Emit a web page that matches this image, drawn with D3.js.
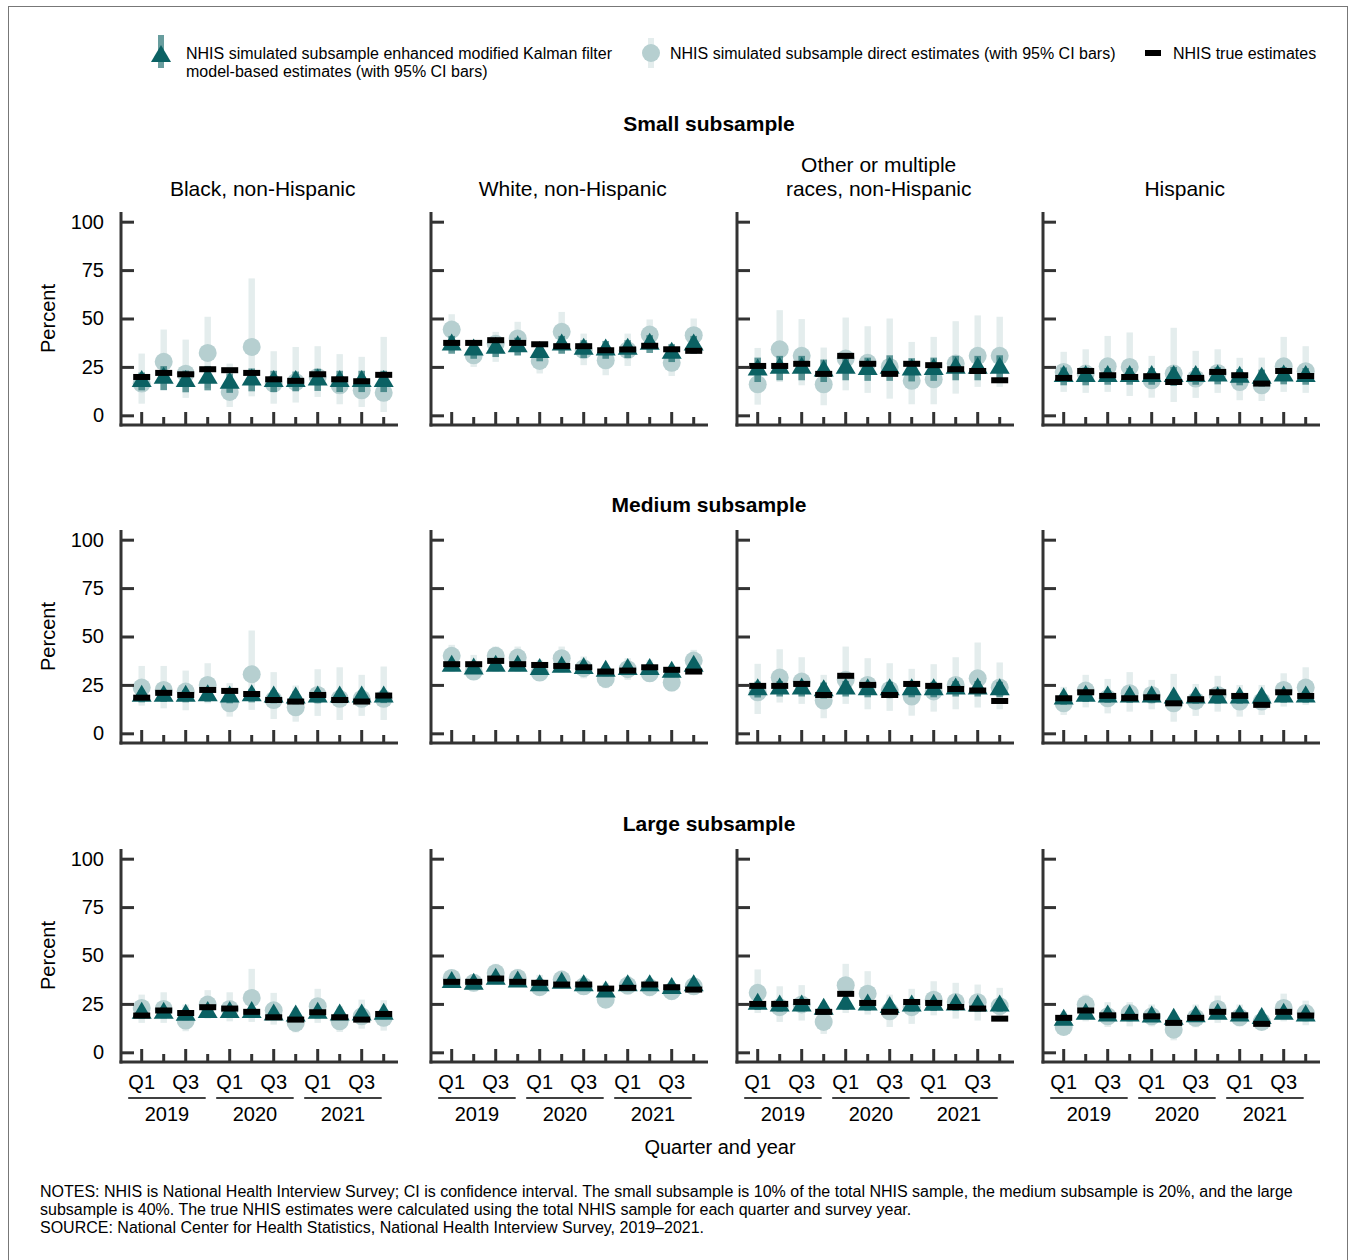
<!DOCTYPE html>
<html><head><meta charset="utf-8">
<script src="https://cdn.jsdelivr.net/npm/d3@7"></script>
<style>body{margin:0;background:#fff;} svg{display:block;font-family:"Liberation Sans",Arial,Helvetica,sans-serif;}</style>
</head><body><svg id="c" width="1351" height="1260"></svg>
<script>
// ---------- categories / labels ----------
const quarters = ["Q1","Q2","Q3","Q4","Q1","Q2","Q3","Q4","Q1","Q2","Q3","Q4"];
const years = ["2019","2020","2021"];
const groups = [["Black, non-Hispanic"],["White, non-Hispanic"],["Other or multiple","races, non-Hispanic"],["Hispanic"]];
const sizes = ["Small subsample","Medium subsample","Large subsample"];
const yTicks = [0,25,50,75,100];
const legendLabels = [["NHIS simulated subsample enhanced modified Kalman filter","model-based estimates (with 95% CI bars)"],["NHIS simulated subsample direct estimates (with 95% CI bars)"],["NHIS true estimates"]];
const notes = ["NOTES: NHIS is National Health Interview Survey; CI is confidence interval. The small subsample is 10% of the total NHIS sample, the medium subsample is 20%, and the large",
 "subsample is 40%. The true NHIS estimates were calculated using the total NHIS sample for each quarter and survey year.",
 "SOURCE: National Center for Health Statistics, National Health Interview Survey, 2019\u20132021."];

// ---------- Small subsample ----------
const smallBlack_true = [19.8,21.9,21.2,23.8,23.3,21.9,18.6,17.8,21.2,18.6,17.6,20.9];
const smallBlack_model = [17.5,19.2,17.5,19.2,16.6,18.3,17.5,17.5,18.3,17.5,17.5,17.5];
const smallBlack_modelLo = [12.9,13.0,11.9,12.9,11.6,12.4,12.0,12.4,12.6,12.0,12.0,12.0];
const smallBlack_modelHi = [22.1,25.4,23.1,25.5,21.6,24.2,23.0,22.6,24.0,23.0,23.0,23.0];
const smallBlack_direct = [16.4,27.6,21.5,32.2,12.1,35.3,16.4,17.2,19.8,15.5,12.9,11.6];
const smallBlack_directLo = [6.0,13.0,9.0,14.0,4.3,9.8,6.0,6.6,9.5,5.7,4.3,1.7];
const smallBlack_directHi = [31.9,44.3,39.1,50.9,26.7,70.7,33.1,35.3,35.7,31.6,30.2,40.5];

const smallWhite_true = [37.4,37.4,38.8,37.4,36.7,35.7,35.7,33.6,34.0,35.9,34.1,33.3];
const smallWhite_model = [36.4,33.8,34.7,35.5,32.5,36.4,34.2,33.8,34.2,36.8,32.1,36.4];
const smallWhite_modelLo = [31.8,29.2,30.1,30.9,27.9,31.8,29.6,29.2,29.6,32.2,27.5,31.8];
const smallWhite_modelHi = [41.0,38.4,39.3,40.1,37.1,41.0,38.8,38.4,38.8,41.4,36.7,41.0];
const smallWhite_direct = [44.3,31.0,37.0,39.7,28.1,43.1,33.6,28.4,33.6,41.7,27.1,41.4];
const smallWhite_directLo = [32.8,25.0,27.6,31.0,21.6,31.9,25.9,20.7,25.5,34.5,20.3,33.6];
const smallWhite_directHi = [52.2,38.8,43.1,48.3,37.0,53.4,42.2,37.0,42.2,49.5,37.0,50.0];

const smallOther_true = [25.5,25.5,26.6,21.4,30.7,26.6,21.4,26.6,25.9,23.8,22.9,18.1];
const smallOther_model = [23.5,24.4,24.4,23.0,24.4,23.8,24.4,23.5,23.8,24.4,24.4,24.4];
const smallOther_modelLo = [17.2,18.1,18.1,17.2,18.1,17.8,17.8,17.5,17.8,18.1,18.1,17.8];
const smallOther_modelHi = [29.8,30.7,30.7,28.8,30.7,29.8,31.0,29.5,29.8,30.7,30.7,31.0];
const smallOther_direct = [16.0,34.1,30.7,16.0,29.3,27.1,25.0,17.8,18.6,26.7,30.7,30.7];
const smallOther_directLo = [5.5,17.2,15.5,5.2,12.9,11.6,8.6,5.7,5.7,11.2,14.7,14.7];
const smallOther_directHi = [34.8,54.3,49.7,35.0,50.5,46.0,50.0,37.9,40.5,48.6,51.6,50.9];

const smallHisp_true = [19.3,22.9,20.7,19.8,20.2,17.2,19.3,22.4,20.7,16.4,22.9,20.3];
const smallHisp_model = [20.1,20.1,20.1,20.1,20.1,20.1,20.1,20.4,19.7,19.2,20.4,20.1];
const smallHisp_modelLo = [15.5,15.5,15.8,15.8,15.8,15.2,15.8,16.0,15.5,14.8,16.0,15.8];
const smallHisp_modelHi = [24.7,24.7,24.4,24.4,24.4,25.0,24.4,24.8,23.9,23.6,24.8,24.4];
const smallHisp_direct = [22.4,21.6,25.3,25.0,18.1,21.6,19.0,21.9,17.2,15.5,25.3,22.8];
const smallHisp_directLo = [12.1,11.6,12.1,10.0,9.1,6.9,9.0,11.6,7.8,7.4,12.1,11.6];
const smallHisp_directHi = [32.8,34.1,41.0,42.8,30.7,45.2,33.3,34.1,29.7,29.8,40.5,35.7];

// ---------- Medium subsample ----------
const medBlack_true = [18.4,20.9,19.8,22.4,21.9,20.3,17.2,16.4,19.8,17.2,16.4,19.5];
const medBlack_model = [19.2,19.2,19.2,19.5,18.8,19.5,18.8,18.3,18.8,18.8,18.8,18.8];
const medBlack_modelLo = [16.0,16.2,16.0,16.3,15.5,16.0,15.5,15.0,15.6,15.6,15.6,15.6];
const medBlack_modelHi = [22.4,22.2,22.4,22.7,22.1,23.0,22.1,21.6,22.0,22.0,22.0,22.0];
const medBlack_direct = [23.6,22.4,21.6,25.0,15.5,30.5,17.2,13.4,19.8,17.8,17.8,17.8];
const medBlack_directLo = [14.3,12.9,11.9,15.5,8.6,12.1,7.4,6.0,9.0,6.9,9.0,6.9];
const medBlack_directHi = [34.8,34.8,32.4,36.2,25.9,53.1,31.6,24.7,33.1,34.1,30.2,34.5];

const medWhite_true = [35.7,35.7,37.4,35.7,35.3,34.8,34.1,31.9,32.4,34.1,32.8,31.9];
const medWhite_model = [34.7,33.3,34.7,34.7,33.0,34.2,33.5,32.1,33.0,33.0,31.6,34.7];
const medWhite_modelLo = [32.1,30.7,32.1,32.1,30.4,31.6,30.9,29.5,30.4,30.4,29.0,32.1];
const medWhite_modelHi = [37.3,35.9,37.3,37.3,35.6,36.8,36.1,34.7,35.6,35.6,34.2,37.3];
const medWhite_direct = [40.0,31.9,40.0,39.1,31.4,38.8,33.6,28.1,33.1,31.0,26.2,37.6];
const medWhite_directLo = [33.6,28.4,32.8,32.4,27.1,31.9,28.4,23.3,27.6,26.7,21.6,31.9];
const medWhite_directHi = [45.7,40.5,44.8,44.8,37.9,44.8,39.7,35.3,38.8,37.9,34.5,43.1];

const medOther_true = [24.5,24.5,25.5,19.8,29.7,25.0,19.8,25.5,24.5,22.9,22.1,16.7];
const medOther_model = [22.6,23.0,23.0,22.1,23.0,22.6,22.6,22.6,22.6,23.0,23.0,22.6];
const medOther_modelLo = [18.5,19.0,19.0,18.0,19.0,18.6,18.6,18.6,18.6,19.0,19.0,18.6];
const medOther_modelHi = [26.7,27.0,27.0,26.2,27.0,26.6,26.6,26.6,26.6,27.0,27.0,26.6];
const medOther_direct = [21.2,28.8,26.7,16.9,27.6,25.0,22.4,19.0,21.6,25.0,28.4,23.6];
const medOther_directLo = [10.0,15.9,15.2,7.8,15.2,12.4,11.6,9.1,11.2,12.4,13.3,12.4];
const medOther_directHi = [35.9,43.4,39.3,30.2,44.8,38.8,36.2,33.3,35.7,39.3,46.9,36.6];

const medHisp_true = [18.1,21.2,19.3,18.1,18.6,15.5,17.6,21.2,19.3,14.7,21.2,19.3];
const medHisp_model = [17.8,19.2,18.8,18.8,18.8,18.3,18.3,18.3,18.3,18.3,18.8,18.8];
const medHisp_modelLo = [14.8,16.2,15.8,15.8,15.8,15.3,15.3,15.3,15.3,15.3,15.8,15.8];
const medHisp_modelHi = [20.8,22.2,21.8,21.8,21.8,21.3,21.3,21.3,21.3,21.3,21.8,21.8];
const medHisp_direct = [15.5,22.1,18.1,20.7,19.8,15.5,16.7,19.8,16.4,16.4,22.4,23.6];
const medHisp_directLo = [9.5,13.4,10.3,11.2,12.4,6.0,9.0,11.2,8.6,9.5,13.8,14.7];
const medHisp_directHi = [24.0,30.2,28.1,31.6,27.6,30.7,25.5,29.7,25.0,25.0,31.0,34.1];

// ---------- Large subsample ----------
const largeBlack_true = [19.0,21.6,20.3,23.3,22.6,20.9,18.1,16.9,20.7,18.1,16.9,19.8];
const largeBlack_model = [20.2,20.2,19.2,20.6,20.6,20.6,19.4,18.8,20.2,19.4,19.4,19.7];
const largeBlack_modelLo = [17.6,17.6,16.6,18.0,18.0,18.0,16.8,16.2,17.6,16.8,16.8,17.1];
const largeBlack_modelHi = [22.8,22.8,21.8,23.2,23.2,23.2,22.0,21.4,22.8,22.0,22.0,22.3];
const largeBlack_direct = [22.9,22.4,16.4,24.7,22.4,28.1,21.7,15.2,23.8,16.0,18.6,17.8];
const largeBlack_directLo = [15.2,15.2,10.9,17.4,16.0,15.7,14.3,10.3,15.2,10.5,12.2,11.2];
const largeBlack_directHi = [29.8,31.0,24.7,32.1,31.0,43.1,30.7,22.9,32.8,23.8,27.2,26.9];

const largeWhite_true = [36.4,36.4,38.1,36.4,35.9,35.0,35.0,32.9,33.3,35.0,33.6,32.4];
const largeWhite_model = [36.1,35.2,37.8,36.4,34.4,35.7,34.4,31.3,34.4,34.4,33.0,34.4];
const largeWhite_modelLo = [34.2,33.3,35.9,34.5,32.5,33.8,32.5,29.4,32.5,32.5,31.1,32.5];
const largeWhite_modelHi = [38.0,37.1,39.7,38.3,36.3,37.6,36.3,33.2,36.3,36.3,34.9,36.3];
const largeWhite_direct = [38.4,35.9,41.0,38.4,33.6,37.6,34.1,27.2,34.5,33.6,31.6,34.1];
const largeWhite_directLo = [33.3,31.6,35.0,34.0,29.8,33.0,29.8,23.3,29.8,29.0,27.2,30.0];
const largeWhite_directHi = [42.8,40.2,45.7,43.1,40.0,42.2,39.3,36.0,39.3,38.4,37.0,37.6];

const largeOther_true = [25.0,25.0,26.0,20.9,30.2,25.5,20.9,26.0,25.5,23.4,22.6,17.4];
const largeOther_model = [24.9,24.0,24.0,22.3,24.9,24.5,23.2,24.0,24.4,24.5,24.0,24.0];
const largeOther_modelLo = [21.9,21.0,21.0,19.3,21.9,21.5,20.2,21.0,21.4,21.5,21.0,21.0];
const largeOther_modelHi = [27.9,27.0,27.0,25.3,27.9,27.5,26.2,27.0,27.4,27.5,27.0,27.0];
const largeOther_direct = [30.7,23.3,24.7,15.7,34.7,30.3,21.2,23.3,27.2,26.0,25.9,23.8];
const largeOther_directLo = [20.3,15.7,16.4,9.5,20.3,19.5,13.1,14.7,19.1,17.4,16.4,16.0];
const largeOther_directHi = [42.8,34.1,34.7,24.7,45.7,41.9,29.8,32.8,36.7,35.9,35.0,33.3];

const largeHisp_true = [17.8,21.6,19.1,18.3,18.6,15.2,17.8,20.9,19.1,14.7,20.9,19.0];
const largeHisp_model = [16.6,19.7,18.8,18.8,18.3,17.1,18.5,19.7,18.8,17.5,19.7,18.8];
const largeHisp_modelLo = [14.4,17.5,16.6,16.6,16.1,14.9,16.3,17.5,16.6,15.3,17.5,16.6];
const largeHisp_modelHi = [18.8,21.9,21.0,21.0,20.5,19.3,20.7,21.9,21.0,19.7,21.9,21.0];
const largeHisp_direct = [13.1,24.7,18.6,20.3,18.6,11.7,17.8,22.4,18.1,15.7,22.9,20.3];
const largeHisp_directLo = [8.8,16.0,13.1,13.4,13.4,6.2,12.9,15.2,13.4,11.7,16.0,14.0];
const largeHisp_directHi = [21.2,29.8,25.9,25.9,24.7,19.5,24.7,29.3,24.7,22.0,30.3,26.7];

// ---------- assemble panels ----------
function panel(t, m, mlo, mhi, d, dlo, dhi) {
  return t.map((v, i) => ({i, true: v, model: m[i], mlo: mlo[i], mhi: mhi[i], direct: d[i], dlo: dlo[i], dhi: dhi[i]}));
}
const panelData = [
  [panel(smallBlack_true,smallBlack_model,smallBlack_modelLo,smallBlack_modelHi,smallBlack_direct,smallBlack_directLo,smallBlack_directHi),
   panel(smallWhite_true,smallWhite_model,smallWhite_modelLo,smallWhite_modelHi,smallWhite_direct,smallWhite_directLo,smallWhite_directHi),
   panel(smallOther_true,smallOther_model,smallOther_modelLo,smallOther_modelHi,smallOther_direct,smallOther_directLo,smallOther_directHi),
   panel(smallHisp_true,smallHisp_model,smallHisp_modelLo,smallHisp_modelHi,smallHisp_direct,smallHisp_directLo,smallHisp_directHi)],
  [panel(medBlack_true,medBlack_model,medBlack_modelLo,medBlack_modelHi,medBlack_direct,medBlack_directLo,medBlack_directHi),
   panel(medWhite_true,medWhite_model,medWhite_modelLo,medWhite_modelHi,medWhite_direct,medWhite_directLo,medWhite_directHi),
   panel(medOther_true,medOther_model,medOther_modelLo,medOther_modelHi,medOther_direct,medOther_directLo,medOther_directHi),
   panel(medHisp_true,medHisp_model,medHisp_modelLo,medHisp_modelHi,medHisp_direct,medHisp_directLo,medHisp_directHi)],
  [panel(largeBlack_true,largeBlack_model,largeBlack_modelLo,largeBlack_modelHi,largeBlack_direct,largeBlack_directLo,largeBlack_directHi),
   panel(largeWhite_true,largeWhite_model,largeWhite_modelLo,largeWhite_modelHi,largeWhite_direct,largeWhite_directLo,largeWhite_directHi),
   panel(largeOther_true,largeOther_model,largeOther_modelLo,largeOther_modelHi,largeOther_direct,largeOther_directLo,largeOther_directHi),
   panel(largeHisp_true,largeHisp_model,largeHisp_modelLo,largeHisp_modelHi,largeHisp_direct,largeHisp_directLo,largeHisp_directHi)]
];

// ---------- layout & style ----------
const colLeft = [121, 431, 737, 1043];
const rowBottom = [425, 743, 1062];
const panelH = 213, axisW = 277, firstOff = 20.7, step = 22;
const rowTitleY = [124, 505, 824];
const C = {
  teal: "#0b6163", modelCI: "#0b6163", circle: "#b6cfd0", light: "#e4eded",
  axis: "#333333", text: "#000000"
};
const svg = d3.select("#c");
svg.append("rect").attr("x", 8.5).attr("y", 6.5).attr("width", 1339).attr("height", 1262)
  .attr("fill", "none").attr("stroke", "#777").attr("stroke-width", 1);

// triangle with its centroid at the origin
const triPath = (w, h) => `M0,${-2 * h / 3}L${w/2},${h/3}L${-w/2},${h/3}Z`;

// legend
const lg = svg.append("g");
lg.append("rect").attr("x", 158).attr("y", 35).attr("width", 6).attr("height", 33).attr("fill", C.modelCI).attr("opacity", 0.62);
lg.append("path").attr("d", triPath(20, 17)).attr("transform", "translate(161,56.3)").attr("fill", C.teal);
legendLabels[0].forEach((t, k) => lg.append("text").attr("x", 186).attr("y", 59 + k * 18).attr("font-size", 16).text(t));
lg.append("rect").attr("x", 648).attr("y", 38).attr("width", 6).attr("height", 30).attr("fill", C.light);
lg.append("circle").attr("cx", 651).attr("cy", 53).attr("r", 9).attr("fill", C.circle);
lg.append("text").attr("x", 670).attr("y", 59).attr("font-size", 16).text(legendLabels[1][0]);
lg.append("rect").attr("x", 1145).attr("y", 50).attr("width", 16).attr("height", 6).attr("fill", "#000");
lg.append("text").attr("x", 1173).attr("y", 59).attr("font-size", 16).text(legendLabels[2][0]);

// row titles
sizes.forEach((s, r) => svg.append("text").attr("x", 709).attr("y", rowTitleY[r] + 7)
  .attr("text-anchor", "middle").attr("font-size", 21).attr("font-weight", "bold").text(s));

panelData.forEach((row, r) => {
  row.forEach((data, c) => {
    const x0 = colLeft[c], yb = rowBottom[r];
    const x = d3.scaleLinear().domain([0, 11]).range([x0 + firstOff, x0 + firstOff + 11 * step]);
    const y = d3.scaleLinear().domain([-5, 105]).range([yb, yb - panelH]);
    const g = svg.append("g");

    if (r === 0) {
      const lines = groups[c];
      lines.forEach((t, k) => g.append("text")
        .attr("x", x(5.5)).attr("y", 196 - (lines.length - 1 - k) * 24)
        .attr("text-anchor", "middle").attr("font-size", 21).text(t));
    }

    // direct CI bars
    g.selectAll(".dci").data(data).join("rect")
      .attr("x", d => x(d.i) - 3.2).attr("width", 6.4)
      .attr("y", d => y(d.dhi)).attr("height", d => y(d.dlo) - y(d.dhi))
      .attr("fill", C.light);
    // direct circles
    g.selectAll(".dc").data(data).join("circle")
      .attr("cx", d => x(d.i)).attr("cy", d => y(d.direct)).attr("r", 9)
      .attr("fill", C.circle);
    // model CI
    g.selectAll(".mci").data(data).join("rect")
      .attr("x", d => x(d.i) - 3.3).attr("width", 6.6)
      .attr("y", d => y(d.mhi)).attr("height", d => y(d.mlo) - y(d.mhi))
      .attr("fill", C.modelCI).attr("opacity", 0.62);
    // triangles
    g.selectAll(".tri").data(data).join("path")
      .attr("d", triPath(20, 17))
      .attr("transform", d => `translate(${x(d.i)},${y(d.model)})`)
      .attr("fill", C.teal);
    // true
    g.selectAll(".tr").data(data).join("rect")
      .attr("x", d => x(d.i) - 8.5).attr("width", 17)
      .attr("y", d => y(d.true) - 3).attr("height", 6)
      .attr("fill", "#000");

    // axes
    const yAx = d3.axisLeft(y).tickValues(yTicks).tickSize(-13).tickPadding(17).tickSizeOuter(0);
    const ya = g.append("g").attr("transform", `translate(${x0},0)`).call(yAx);
    ya.select(".domain").remove();
    ya.selectAll(".tick line").attr("stroke", C.axis).attr("stroke-width", 3);
    ya.selectAll(".tick text").attr("font-size", 20).attr("fill", c === 0 ? C.text : "none")
      .attr("font-family", "Liberation Sans, Arial, sans-serif");
    g.append("line").attr("x1", x0).attr("x2", x0).attr("y1", yb - panelH).attr("y2", yb + 1.5)
      .attr("stroke", C.axis).attr("stroke-width", 3);
    g.append("line").attr("x1", x0 - 1.5).attr("x2", x0 + axisW).attr("y1", yb).attr("y2", yb)
      .attr("stroke", C.axis).attr("stroke-width", 3);
    g.selectAll(".xt").data(quarters).join("line")
      .attr("x1", (q, i) => x(i)).attr("x2", (q, i) => x(i))
      .attr("y1", yb).attr("y2", (q, i) => yb - (i % 2 === 0 ? 13 : 8))
      .attr("stroke", C.axis).attr("stroke-width", 3);

    if (c === 0) {
      g.append("text").attr("transform", `translate(55,${y(50)}) rotate(-90)`)
        .attr("text-anchor", "middle").attr("font-size", 20).text("Percent");
    }

    if (r === 2) {
      g.selectAll(".ql").data(quarters).join("text")
        .attr("x", (q, i) => x(i)).attr("y", yb + 27)
        .attr("text-anchor", "middle").attr("font-size", 20)
        .text((q, i) => i % 2 === 0 ? q : "");
      years.forEach((yr, k) => {
        const a = x(4 * k) - 13.5, b = x(4 * k + 3) - 2;
        g.append("line").attr("x1", a).attr("x2", b).attr("y1", yb + 36).attr("y2", yb + 36)
          .attr("stroke", "#000").attr("stroke-width", 1.5);
        g.append("text").attr("x", (a + b) / 2).attr("y", yb + 59)
          .attr("text-anchor", "middle").attr("font-size", 20).text(yr);
      });
    }
  });
});

svg.append("text").attr("x", 720).attr("y", 1154).attr("text-anchor", "middle").attr("font-size", 20).text("Quarter and year");
notes.forEach((t, k) => svg.append("text").attr("x", 40).attr("y", 1197 + k * 18).attr("font-size", 16).text(t));
</script>
</body></html>
